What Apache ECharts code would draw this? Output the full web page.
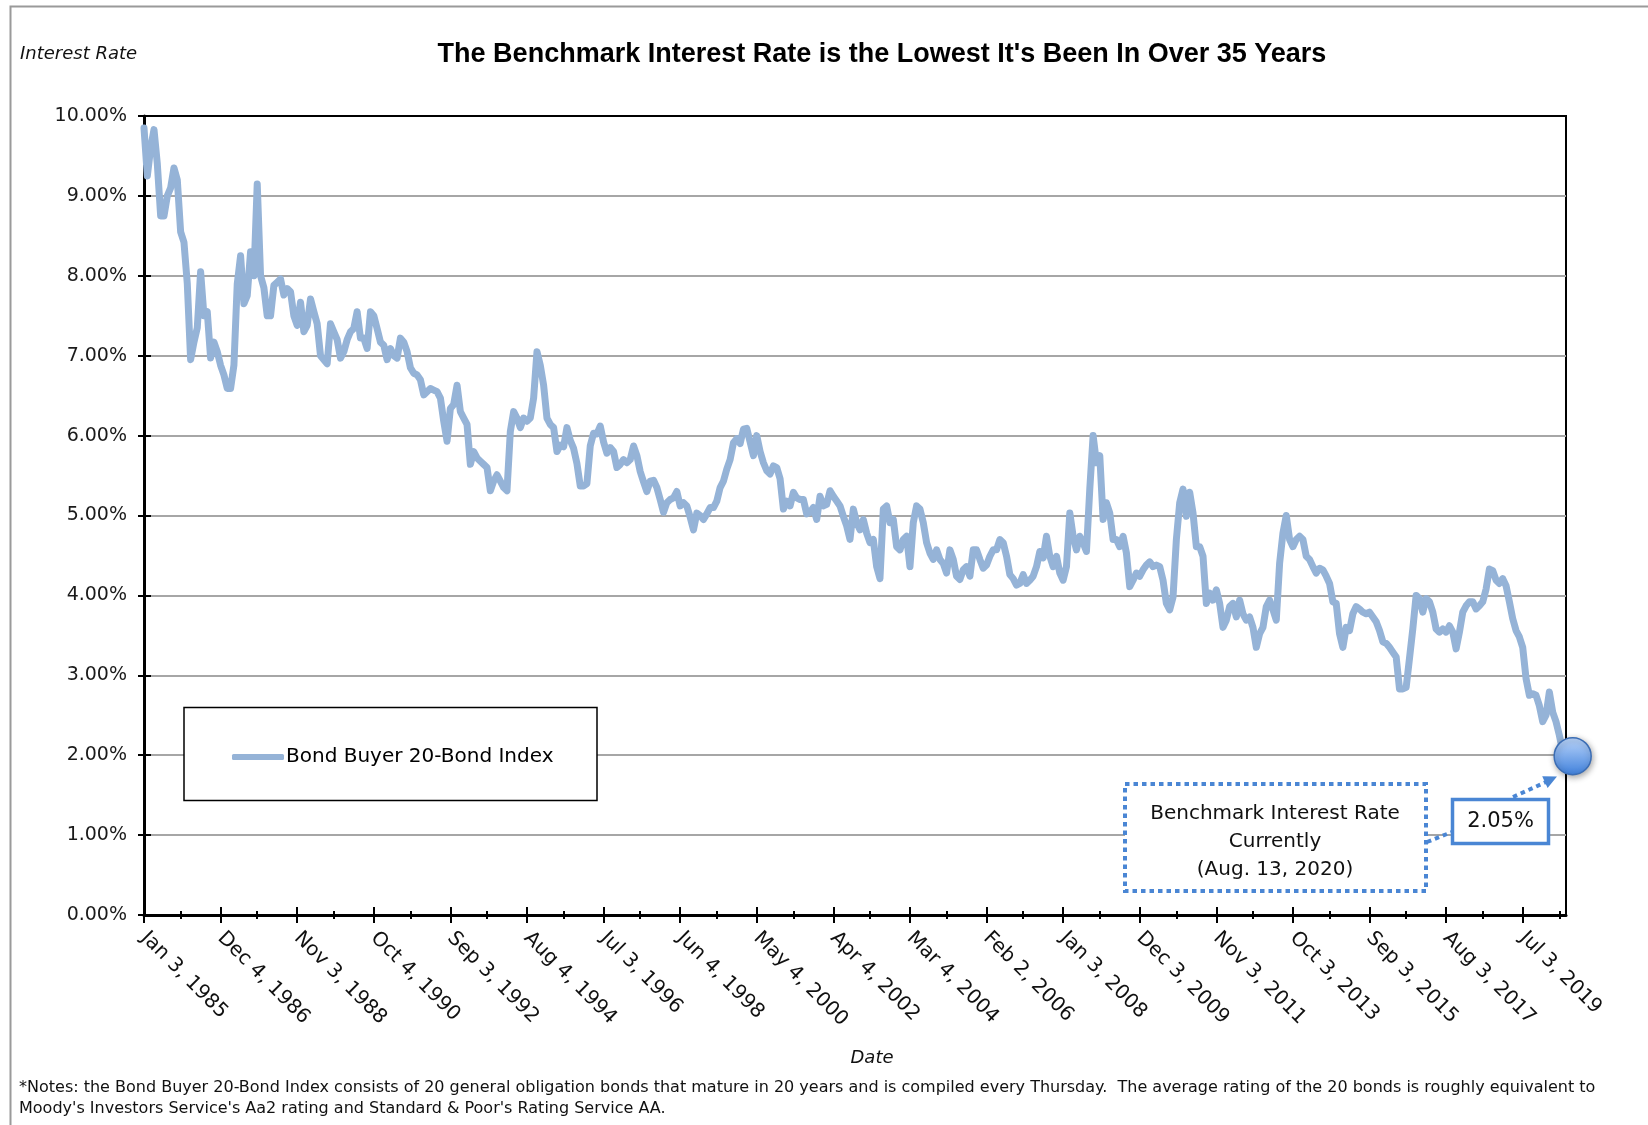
<!DOCTYPE html>
<html>
<head>
<meta charset="utf-8">
<title>Bond Buyer 20-Bond Index</title>
<script src="https://cdn.jsdelivr.net/npm/echarts@6/dist/echarts.min.js"></script>
<style>
    html, body { margin: 0; padding: 0; background: #fff; }
    #chart { width: 1648px; height: 1125px; }
</style>
</head>
<body>
<div id="chart"></div>
<script>
// monthly readings of the Bond Buyer 20-Bond Index (%), Jan 1985 .. Aug 2020
const rates = [
    9.85, 9.25, 9.60, 9.83, 9.40, 8.75, 8.75, 9.00, 9.10, 9.35,
    9.20, 8.55, 8.42, 7.90, 6.95, 7.17, 7.35, 8.05, 7.50, 7.55,
    6.97, 7.17, 7.05, 6.88, 6.76, 6.59, 6.59, 6.88, 7.90, 8.25,
    7.65, 7.75, 8.30, 8.00, 9.15, 8.00, 7.85, 7.50, 7.50, 7.88,
    7.92, 7.96, 7.76, 7.84, 7.80, 7.50, 7.38, 7.67, 7.30, 7.38,
    7.71, 7.55, 7.40, 7.00, 6.95, 6.90, 7.40, 7.30, 7.20, 6.97,
    7.05, 7.20, 7.30, 7.34, 7.55, 7.22, 7.22, 7.09, 7.55, 7.50,
    7.34, 7.17, 7.13, 6.95, 7.09, 7.00, 6.97, 7.22, 7.17, 7.05,
    6.85, 6.78, 6.76, 6.70, 6.51, 6.55, 6.59, 6.57, 6.55, 6.47,
    6.18, 5.93, 6.34, 6.39, 6.63, 6.30, 6.22, 6.14, 5.64, 5.80,
    5.72, 5.68, 5.64, 5.60, 5.31, 5.43, 5.51, 5.43, 5.35, 5.31,
    6.05, 6.30, 6.22, 6.10, 6.22, 6.18, 6.22, 6.47, 7.05, 6.88,
    6.63, 6.22, 6.14, 6.10, 5.80, 5.88, 5.86, 6.10, 5.94, 5.84,
    5.65, 5.37, 5.37, 5.40, 5.87, 6.03, 6.02, 6.12, 5.92, 5.78,
    5.85, 5.80, 5.60, 5.64, 5.70, 5.66, 5.70, 5.87, 5.75, 5.55,
    5.42, 5.30, 5.43, 5.44, 5.35, 5.20, 5.04, 5.16, 5.20, 5.22,
    5.30, 5.12, 5.16, 5.12, 4.98, 4.82, 5.03, 5.00, 4.95, 5.02,
    5.10, 5.10, 5.18, 5.35, 5.43, 5.58, 5.70, 5.91, 5.96, 5.90,
    6.08, 6.09, 5.92, 5.75, 6.00, 5.80, 5.66, 5.56, 5.52, 5.62,
    5.60, 5.46, 5.08, 5.18, 5.12, 5.29, 5.22, 5.20, 5.20, 5.02,
    5.04, 5.10, 4.95, 5.24, 5.12, 5.14, 5.31, 5.24, 5.18, 5.12,
    4.99, 4.87, 4.70, 5.08, 4.91, 4.82, 4.95, 4.78, 4.66, 4.70,
    4.36, 4.21, 5.08, 5.12, 4.91, 4.95, 4.61, 4.57, 4.70, 4.74,
    4.36, 4.91, 5.12, 5.08, 4.91, 4.66, 4.53, 4.45, 4.57, 4.45,
    4.40, 4.28, 4.57, 4.45, 4.24, 4.20, 4.32, 4.36, 4.24, 4.57,
    4.57, 4.45, 4.34, 4.38, 4.49, 4.57, 4.57, 4.70, 4.66, 4.49,
    4.26, 4.21, 4.13, 4.15, 4.26, 4.15, 4.19, 4.24, 4.36, 4.55,
    4.47, 4.74, 4.49, 4.36, 4.49, 4.28, 4.19, 4.36, 5.03, 4.74,
    4.57, 4.74, 4.66, 4.55, 5.33, 6.00, 5.66, 5.75, 4.95, 5.16,
    5.03, 4.70, 4.70, 4.61, 4.74, 4.53, 4.11, 4.19, 4.28, 4.24,
    4.32, 4.38, 4.42, 4.36, 4.38, 4.36, 4.19, 3.90, 3.82, 3.98,
    4.70, 5.16, 5.33, 4.99, 5.29, 5.03, 4.61, 4.61, 4.49, 3.90,
    4.03, 3.94, 4.07, 3.90, 3.60, 3.69, 3.86, 3.90, 3.73, 3.94,
    3.77, 3.69, 3.73, 3.60, 3.35, 3.52, 3.60, 3.86, 3.94, 3.82,
    3.69, 4.40, 4.78, 5.00, 4.70, 4.61, 4.70, 4.74, 4.70, 4.49,
    4.45, 4.36, 4.28, 4.34, 4.32, 4.24, 4.15, 3.92, 3.90, 3.52,
    3.35, 3.60, 3.56, 3.77, 3.86, 3.83, 3.79, 3.77, 3.79, 3.73,
    3.67, 3.56, 3.42, 3.40, 3.35, 3.29, 3.23, 2.83, 2.83, 2.85,
    3.21, 3.58, 4.00, 3.96, 3.79, 3.96, 3.92, 3.79, 3.58, 3.54,
    3.58, 3.54, 3.62, 3.54, 3.33, 3.54, 3.79, 3.87, 3.92, 3.92,
    3.83, 3.87, 3.92, 4.08, 4.33, 4.31, 4.19, 4.15, 4.21, 4.12,
    3.92, 3.71, 3.56, 3.48, 3.35, 2.96, 2.75, 2.77, 2.75, 2.62,
    2.42, 2.50, 2.79, 2.54, 2.42, 2.25, 2.05
]

// date labels, one every 23 months (100 weekly prints in the source sheet)
const tickLabels = [
    'Jan 3, 1985', 'Dec 4, 1986', 'Nov 3, 1988', 'Oct 4, 1990', 'Sep 3, 1992',
    'Aug 4, 1994', 'Jul 3, 1996', 'Jun 4, 1998', 'May 4, 2000', 'Apr 4, 2002',
    'Mar 4, 2004', 'Feb 2, 2006', 'Jan 3, 2008', 'Dec 3, 2009', 'Nov 3, 2011',
    'Oct 3, 2013', 'Sep 3, 2015', 'Aug 3, 2017', 'Jul 3, 2019'
]
const labelStep = 23

const seriesName = 'Bond Buyer 20-Bond Index'
const currentRate = '2.05%'

// month categories, one spare slot at the end like the source axis
const months = []
for (let i = 0; i <= rates.length; i++) {
    const y = 1985 + Math.floor(i / 12)
    const m = (i % 12) + 1
    months.push(y + '-' + String(m).padStart(2, '0'))
}

const FONT = '"DejaVu Sans", "Liberation Sans", sans-serif'
const BLUE = '#4a86d4'
const LINE = '#95B3D7'

// bottom category axis, used several times for crossing / minor ticks
const catAxis = (extra) => Object.assign({
    type: 'category',
    data: months,
    boundaryGap: false,
    position: 'bottom',
    z: 1,
    axisLine: { show: false, onZero: false },
    axisTick: { show: false },
    axisLabel: { show: false },
    splitLine: { show: false }
}, extra)

const tickStyle = { color: '#000', width: 2 }
const isMajor = (i) => i % labelStep === 0
const isMinor = (i) => i % labelStep === 11

const chart = echarts.init(document.getElementById('chart'))

chart.setOption({
    animation: false,
    backgroundColor: '#fff',
    grid: {
        left: 144,
        right: 82,
        top: 116,
        bottom: 210,
        show: true,
        borderColor: '#000',
        borderWidth: 2
    },
    legend: {
        data: [{ name: seriesName, icon: 'roundRect' }],
        left: 232,
        top: 747,
        padding: 0,
        itemWidth: 52,
        itemHeight: 6,
        itemStyle: { color: LINE },
        textStyle: { fontFamily: FONT, fontSize: 20, color: '#000', padding: [0, 0, 0, -3] }
    },
    xAxis: [
        catAxis({
            axisLine: { show: true, onZero: false, lineStyle: { color: '#000', width: 3 } },
            axisTick: { show: true, interval: isMajor, length: 8, lineStyle: tickStyle },
            axisLabel: {
                show: true,
                interval: isMajor,
                formatter: (v, i) => tickLabels[i / labelStep] || '',
                rotate: -45,
                margin: 20,
                hideOverlap: false,
                fontFamily: FONT,
                fontSize: 20,
                color: '#111'
            }
        }),
        catAxis({ axisTick: { show: true, inside: true, interval: isMajor, length: 8, lineStyle: tickStyle } }),
        catAxis({ axisTick: { show: true, interval: isMinor, length: 4, lineStyle: tickStyle } }),
        catAxis({ axisTick: { show: true, inside: true, interval: isMinor, length: 4, lineStyle: tickStyle } })
    ],
    yAxis: [
        {
            type: 'value',
            min: 0,
            max: 10,
            interval: 1,
            position: 'left',
            z: 1,
            axisLine: { show: true, onZero: false, lineStyle: { color: '#000', width: 3 } },
            axisTick: { show: true, length: 6, lineStyle: tickStyle },
            axisLabel: {
                formatter: (v) => v.toFixed(2) + '%',
                margin: 17,
                fontFamily: FONT,
                fontSize: 19,
                color: '#1a1a1a'
            },
            splitLine: {
                showMinLine: false,
                showMaxLine: false,
                lineStyle: { color: '#a6a6a6', width: 2 }
            }
        },
        {
            type: 'value',
            min: 0,
            max: 10,
            interval: 1,
            position: 'left',
            z: 1,
            axisLine: { show: false, onZero: false },
            axisTick: { show: true, inside: true, length: 7, lineStyle: tickStyle },
            axisLabel: { show: false },
            splitLine: { show: false }
        }
    ],
    series: [
        {
            name: seriesName,
            type: 'line',
            data: rates,
            symbol: 'none',
            z: 3,
            itemStyle: { color: LINE },
            lineStyle: { color: LINE, width: 7, cap: 'round', join: 'round' },
            markPoint: {
                symbol: 'circle',
                symbolSize: 37,
                symbolOffset: [10, 5],
                label: { show: false },
                itemStyle: {
                    color: new echarts.graphic.LinearGradient(0, 0, 0, 1, [
                        { offset: 0, color: '#bcd6fb' },
                        { offset: 1, color: '#3f80db' }
                    ]),
                    borderColor: '#3b6db4',
                    borderWidth: 1.5,
                    shadowBlur: 6,
                    shadowColor: 'rgba(0,0,0,0.35)',
                    shadowOffsetX: 1,
                    shadowOffsetY: 2
                },
                data: [{ coord: [rates.length - 1, rates[rates.length - 1]] }]
            }
        }
    ],
    graphic: [
        // outer frame of the sheet
        {
            type: 'rect', silent: true, z: 0,
            shape: { x: 10.5, y: 6.5, width: 1700, height: 1200 },
            style: { fill: 'transparent', stroke: '#9a9a9a', lineWidth: 2 }
        },
        {
            type: 'text', silent: true,
            x: 882, y: 55,
            style: {
                text: "The Benchmark Interest Rate is the Lowest It's Been In Over 35 Years",
                font: 'bold 27px "Liberation Sans", Arial, sans-serif',
                fill: '#000', textAlign: 'center', textVerticalAlign: 'middle'
            }
        },
        {
            type: 'text', silent: true,
            x: 20, y: 54,
            style: {
                text: 'Interest Rate', font: 'italic 18px ' + FONT,
                fill: '#111', textAlign: 'left', textVerticalAlign: 'middle'
            }
        },
        {
            type: 'text', silent: true,
            x: 872, y: 1058,
            style: {
                text: 'Date', font: 'italic 18px ' + FONT,
                fill: '#111', textAlign: 'center', textVerticalAlign: 'middle'
            }
        },
        {
            type: 'text', silent: true,
            x: 19, y: 1088,
            style: {
                text: '*Notes: the Bond Buyer 20-Bond Index consists of 20 general obligation bonds that mature in 20 years and is compiled every Thursday.  The average rating of the 20 bonds is roughly equivalent to',
                font: '16px ' + FONT, fill: '#111', textAlign: 'left', textVerticalAlign: 'middle'
            }
        },
        {
            type: 'text', silent: true,
            x: 19, y: 1109,
            style: {
                text: "Moody's Investors Service's Aa2 rating and Standard & Poor's Rating Service AA.",
                font: '16px ' + FONT, fill: '#111', textAlign: 'left', textVerticalAlign: 'middle'
            }
        },
        // legend frame
        {
            type: 'rect', silent: true, z: 3,
            shape: { x: 184, y: 707.5, width: 413, height: 93 },
            style: { fill: '#fff', stroke: '#000', lineWidth: 1.5 }
        },
        // call-out: dotted note box
        {
            type: 'rect', silent: true, z: 5,
            shape: { x: 1125, y: 784, width: 301, height: 107 },
            style: { fill: '#fff', stroke: BLUE, lineWidth: 4, lineDash: [4.5, 4] }
        },
        {
            type: 'text', silent: true, z: 6,
            x: 1275, y: 842,
            style: {
                text: 'Benchmark Interest Rate\nCurrently\n(Aug. 13, 2020)',
                font: '20px ' + FONT, lineHeight: 28, fill: '#111',
                textAlign: 'center', textVerticalAlign: 'middle'
            }
        },
        {
            type: 'line', silent: true, z: 5,
            shape: { x1: 1427, y1: 842, x2: 1452, y2: 832 },
            style: { stroke: BLUE, lineWidth: 4, lineDash: [4.5, 4] }
        },
        // call-out: value box
        {
            type: 'rect', silent: true, z: 5,
            shape: { x: 1452.5, y: 799.5, width: 96, height: 44 },
            style: { fill: '#fff', stroke: BLUE, lineWidth: 3.5 }
        },
        {
            type: 'text', silent: true, z: 6,
            x: 1500.5, y: 822,
            style: {
                text: currentRate, font: '21px ' + FONT, fill: '#111',
                textAlign: 'center', textVerticalAlign: 'middle'
            }
        },
        {
            type: 'line', silent: true, z: 5,
            shape: { x1: 1513, y1: 797, x2: 1546, y2: 782 },
            style: { stroke: BLUE, lineWidth: 4, lineDash: [4.5, 4] }
        },
        {
            type: 'polygon', silent: true, z: 5,
            shape: { points: [[1557, 776.5], [1547.6, 788], [1542.2, 776.2]] },
            style: { fill: BLUE }
        }
    ]
})
</script>
</body>
</html>
